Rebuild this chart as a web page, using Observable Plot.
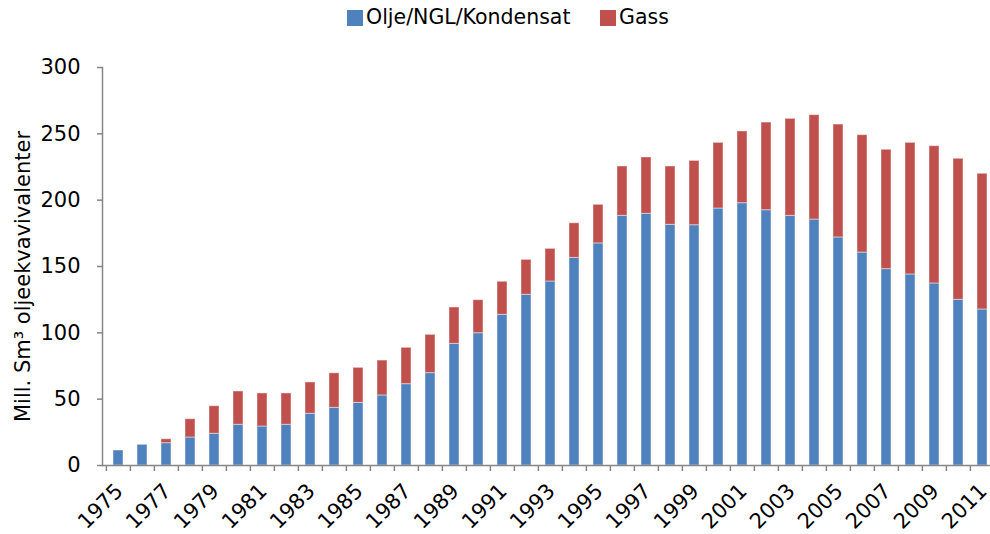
<!DOCTYPE html>
<html>
<head>
<meta charset="utf-8">
<script src="https://cdn.jsdelivr.net/npm/d3@7"></script>
<script src="https://cdn.jsdelivr.net/npm/@observablehq/plot@0.6"></script>
<style>
  html, body { margin: 0; padding: 0; background: #fff; }
  #wrap { width: 990px; height: 534px; position: relative; overflow: hidden; font-family: "DejaVu Sans", sans-serif; }
  #legend { position: relative; height: 34px; width: 990px; }
  .sw { position: absolute; top: 10px; width: 16px; height: 16px; }
  .lt { position: absolute; top: 5px; font-size: 20.5px; line-height: 24px; color: #000; white-space: nowrap; }
  svg { display: block; }
</style>
</head>
<body>
<div id="wrap">
  <div id="legend"></div>
  <div id="chart"></div>
</div>
<script>
const years = [1975,1976,1977,1978,1979,1980,1981,1982,1983,1984,1985,1986,1987,1988,1989,1990,1991,1992,1993,1994,1995,1996,1997,1998,1999,2000,2001,2002,2003,2004,2005,2006,2007,2008,2009,2010,2011];
const oil = [11.3,15.6,16.8,21.1,23.9,30.7,29.4,30.7,39.0,43.5,47.2,52.8,61.3,69.6,91.7,99.7,113.6,128.7,138.7,156.5,167.4,188.2,189.7,181.4,181.1,193.7,197.7,192.4,188.2,185.4,171.9,160.5,148.0,144.0,137.2,124.9,117.6];
const gas = [0,0,3.0,13.8,20.8,25.1,24.9,23.6,23.6,26.0,26.4,26.3,27.4,28.9,27.4,24.9,24.9,26.3,24.6,26.1,29.1,37.2,42.5,44.0,48.5,49.5,54.1,66.1,73.1,78.7,85.1,88.5,90.0,99.2,103.5,106.3,102.3];
const seriesNames = ["Olje/NGL/Kondensat", "Gass"];
const seriesColors = ["#4F81BD", "#C0504D"];
const yTicks = [0, 50, 100, 150, 200, 250, 300];
const labelYears = years.filter(y => y % 2 === 1);
const yTitle = "Mill. Sm³ oljeekvavivalenter";

const data = [];
years.forEach((y, i) => data.push({year: y, series: seriesNames[0], value: oil[i]}));
years.forEach((y, i) => data.push({year: y, series: seriesNames[1], value: gas[i]}));

// legend
const legend = document.getElementById("legend");
const legendPos = [[347, 366], [600, 619]];
seriesNames.forEach((n, i) => {
  const s = document.createElement("div");
  s.className = "sw"; s.style.left = legendPos[i][0] + "px"; s.style.background = seriesColors[i];
  legend.appendChild(s);
  const t = document.createElement("div");
  t.className = "lt"; t.style.left = legendPos[i][1] + "px"; t.textContent = n;
  legend.appendChild(t);
});

const W = 990, H = 500;
const x0 = 102, x1 = 998;
const step = (x1 - x0) / years.length;
const axisColor = "#868686";

const chart = Plot.plot({
  width: W,
  height: H,
  marginTop: 33,
  marginBottom: 69,
  marginLeft: x0,
  marginRight: 0,
  style: {fontFamily: "DejaVu Sans, sans-serif", fontSize: "21px", color: "#000", background: "#fff", overflow: "hidden"},
  x: {type: "band", domain: years, range: [x0, x1], paddingInner: 0.6, paddingOuter: 0.3},
  y: {domain: [0, 300]},
  color: {domain: seriesNames, range: seriesColors},
  marks: [
    Plot.barY(data, Plot.stackY({x: "year", y: "value", fill: "series", order: seriesNames, stroke: "white", strokeOpacity: 0.45, strokeWidth: 1})),
    Plot.ruleY([0], {stroke: axisColor, strokeWidth: 1.5}),
    Plot.frame({anchor: "left", stroke: axisColor, strokeWidth: 1.5}),
    Plot.axisY({ticks: yTicks, tickSize: 5, tickPadding: 17, label: null, stroke: axisColor, strokeWidth: 1.5}),
    Plot.axisX({ticks: years, tickSize: 6, tickFormat: () => "", dx: -step / 2, label: null, stroke: axisColor, strokeWidth: 1.5}),
    Plot.axisX({ticks: labelYears, tickSize: 0, tickPadding: 22, tickRotate: -45, dx: 1, tickFormat: d => String(d), label: null}),
    Plot.text([yTitle], {frameAnchor: "left", textAnchor: "middle", dx: -79, dy: 10, rotate: -90, fontSize: 21, fill: "#000"})
  ]
});
document.getElementById("chart").appendChild(chart);
</script>
</body>
</html>
